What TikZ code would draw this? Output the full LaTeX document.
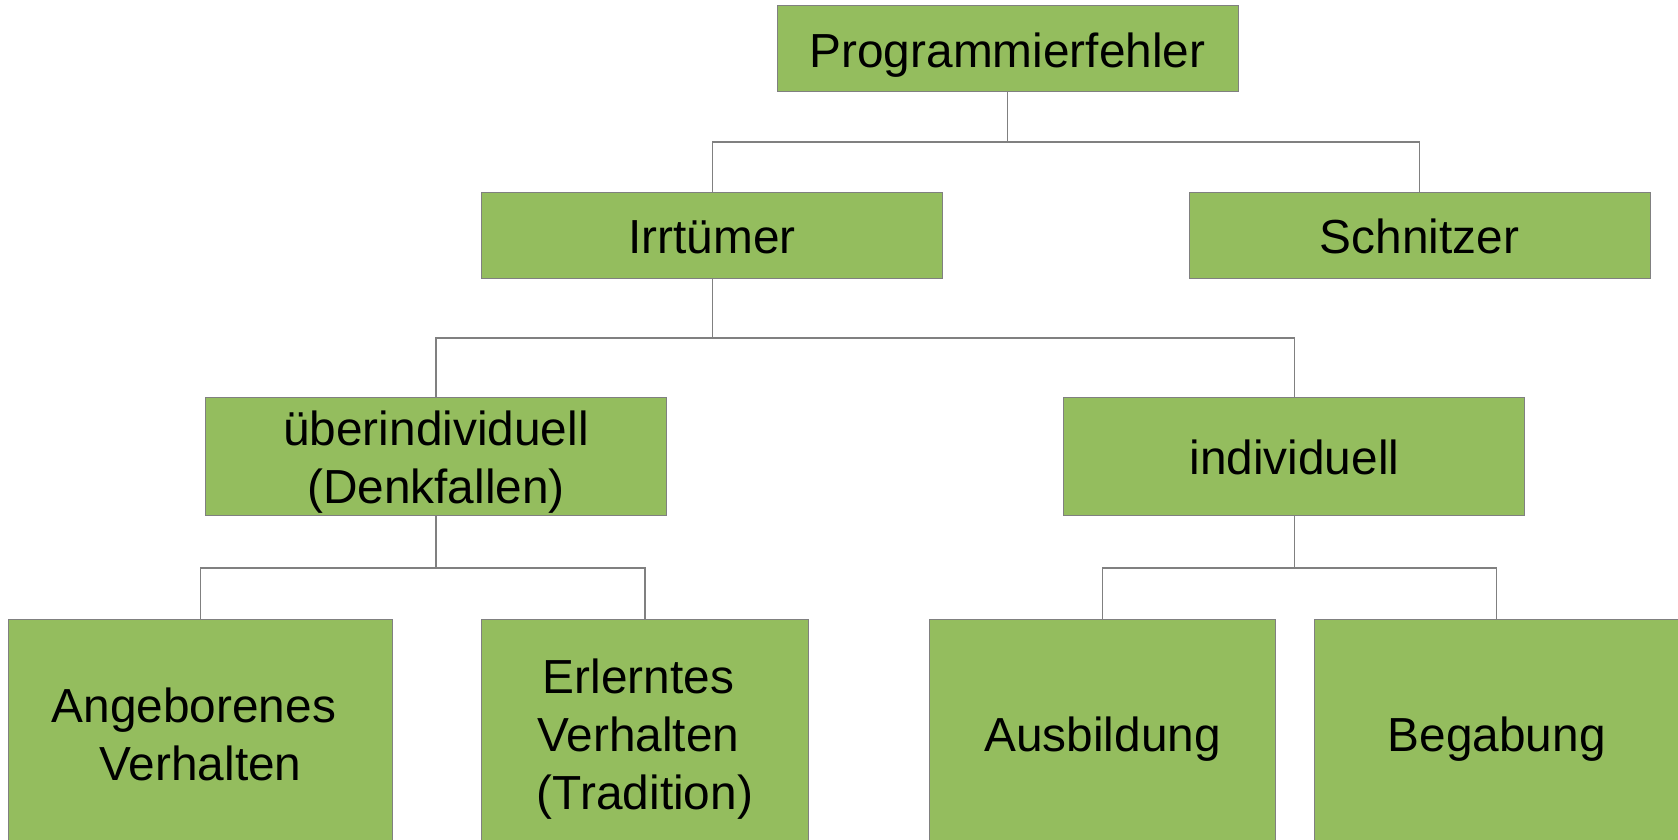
\documentclass[tikz,border=0pt]{standalone}
\usepackage{fontspec}
\setmainfont{Liberation Sans}
\definecolor{boxgreen}{RGB}{148,189,94}
\definecolor{linegray}{RGB}{128,128,128}

\begin{document}
\begin{tikzpicture}[x=0.5pt,y=-0.5pt]
\tikzset
{%Kästen und Linien
  kasten/.style={draw=linegray,line width=0.5pt,fill=boxgreen,inner sep=0pt,
    align=center,font=\fontsize{23.9}{29}\selectfont,text height=20pt,text depth=1.5pt},
  zwei/.style={text height=49pt},
  drei/.style={text height=78pt},
  linie/.style={draw=linegray,line width=0.65pt},
}
\useasboundingbox (0,0) rectangle (1678,840);
\clip (0,0) rectangle (1678,840);

\node[kasten,minimum width=230.5pt,minimum height=43pt] (prog) at (1007.5,49) {Programmierfehler};
\node[kasten,minimum width=230.5pt,minimum height=43pt] (irr) at (712.2,235.5) {Irrtümer};
\node[kasten,minimum width=230.5pt,minimum height=43pt] (schn) at (1419.5,235.5) {Schnitzer};
\node[kasten,zwei,minimum width=230.5pt,minimum height=58.6pt] (ueber) at (436,456.4) {überindividuell\\(Denkfallen)};
\node[kasten,minimum width=230.5pt,minimum height=58.6pt] (indiv) at (1294.4,456.4) {individuell};
\node[kasten,zwei,minimum width=191.75pt,minimum height=113.3pt] (ang) at (200.5,733) {Angeborenes\kern.28em\\Verhalten};
\node[kasten,drei,minimum width=163.3pt,minimum height=113.3pt] (erl) at (645,733) {Erlerntes\kern.28em\\Verhalten\kern.28em\\(Tradition)};
\node[kasten,minimum width=173.35pt,minimum height=113.3pt] (ausb) at (1102.6,733) {Ausbildung};
\node[kasten,minimum width=182.5pt,minimum height=113.3pt] (beg) at (1496.7,733) {Begabung};

\coordinate (bus1) at (1007.5,142);
\coordinate (bus2) at (712.2,338);
\coordinate (bus3) at (436,568);
\coordinate (bus4) at (1294.4,568);

\path[linie] (prog.south) -- (bus1);
\path[linie] (irr.north) |- (bus1) -| (schn.north);
\path[linie] (irr.south) -- (bus2);
\path[linie] (ueber.north) |- (bus2) -| (indiv.north);
\path[linie] (ueber.south) -- (bus3);
\path[linie] (ang.north) |- (bus3) -| (erl.north);
\path[linie] (indiv.south) -- (bus4);
\path[linie] (ausb.north) |- (bus4) -| (beg.north);
\end{tikzpicture}
\end{document}
